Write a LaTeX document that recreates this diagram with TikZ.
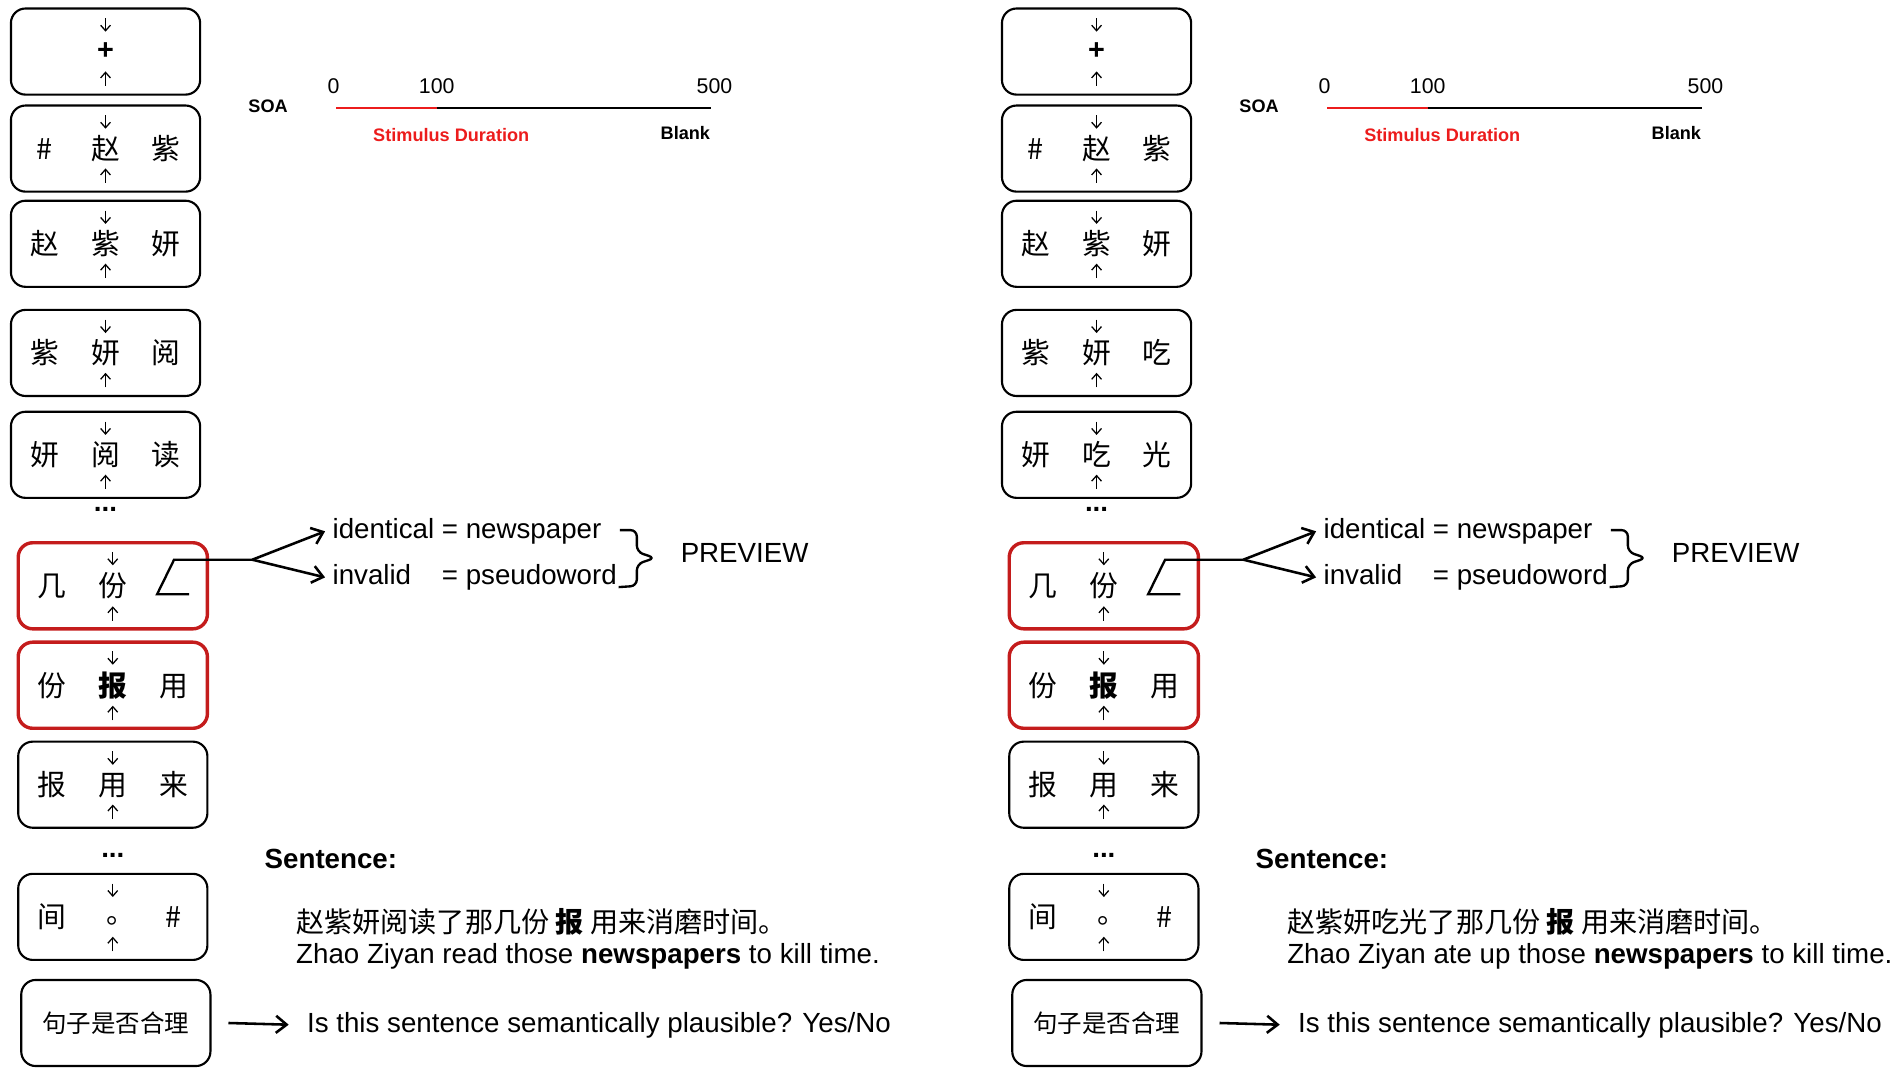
\documentclass[tikz,border=0pt]{standalone}
\usepackage{fontspec}
\setmainfont{Liberation Sans}
\newfontfamily\cjk{Noto Sans CJK SC}
\usepackage{xcolor}
\usetikzlibrary{arrows.meta}
\definecolor{cuered}{RGB}{196,28,28}
\definecolor{soared}{RGB}{236,28,28}
\newcommand{\cell}[1]{\makebox[1cm]{#1}}
\tikzstyle{winbox} = [rectangle, rounded corners=0.24cm, minimum width=3.12cm, minimum height=1.42cm, inner sep=0pt, draw=black, line width=1pt, font=\cjk\fontsize{13.5}{16}\selectfont]
\tikzstyle{cuebox} = [winbox, draw=cuered, line width=1.6pt]
\tikzstyle{gaze} = [line width=0.6pt, -{Straight Barb[length=2.6pt,width=4.6pt]}]
\tikzstyle{txt} = [anchor=west, font=\fontsize{13}{15}\selectfont]
\tikzstyle{lab} = [font=\bfseries\fontsize{8.5}{10}\selectfont]
\tikzstyle{num} = [font=\fontsize{10}{12}\selectfont]
\tikzstyle{ellip} = [font=\bfseries\fontsize{13}{15}\selectfont]
\tikzstyle{arrow} = [line width=1.2pt, -{Straight Barb[length=5pt,width=8pt]}]

\begin{document}
\begin{tikzpicture}[x=0.02cm, y=-0.02cm, node distance=1.64cm]
\useasboundingbox (0,0) rectangle (1568,886);
\foreach \p/\dx/\va/\vb/\eng in {L/0/阅/读/read, R/817/吃/光/ate up}{
\begin{scope}[xshift=\dx*0.02cm]
  % word-by-word windows
  \node (\p-b1) [winbox] at (87,42.5) {\cell{}\cell{\rmfamily\bfseries +}\cell{}};
  \node (\p-b2) [winbox, node distance=1.6cm, below of=\p-b1] {\cell{\#}\cell{赵}\cell{紫}};
  \node (\p-b3) [winbox, node distance=1.57cm, below of=\p-b2] {\cell{赵}\cell{紫}\cell{妍}};
  \node (\p-b4) [winbox, node distance=1.8cm, below of=\p-b3] {\cell{紫}\cell{妍}\cell{\va}};
  \node (\p-b5) [winbox, node distance=1.68cm, below of=\p-b4] {\cell{妍}\cell{\va}\cell{\vb}};
  \node (\p-d1) [ellip, node distance=0.9cm, below of=\p-b5] {...};
  \node (\p-b6) [cuebox, node distance=1.26cm, below of=\p-d1, xshift=0.12cm] {\cell{几}\cell{份}\cell{}};
  \node (\p-b7) [cuebox, below of=\p-b6] {\cell{份}\cell{\textbf{报}}\cell{用}};
  \node (\p-b8) [winbox, below of=\p-b7] {\cell{报}\cell{用}\cell{来}};
  \node (\p-d2) [ellip, node distance=1.17cm, below of=\p-b8] {...};
  \node (\p-b9) [winbox, node distance=1.01cm, below of=\p-d2] {\cell{间}\cell{\hspace*{0.55em}\raisebox{0.15em}{。}}\cell{\#}};
  \node (\p-b10) [winbox, node distance=1.75cm, below of=\p-b9, xshift=0.05cm, font=\cjk\fontsize{11.5}{14}\selectfont] {句子是否合理};
  \foreach \i in {1,...,9}{
    \draw[gaze] ([yshift=-0.18cm]\p-b\i.north) -- ++(0,11);
    \draw[gaze] ([yshift=0.16cm]\p-b\i.south) -- ++(0,-12);
  }
  % mask in the preview slot
  \coordinate (\p-slot) at ([shift={(50.5,-21.5)}]\p-b6.center);
  \coordinate (\p-fork) at ([shift={(115,-21.5)}]\p-b6.center);
  \draw[line width=1.1pt] ([shift={(63,7)}]\p-b6.center) -- ([shift={(36.5,7)}]\p-b6.center) -- (\p-slot) -- (\p-fork);
  \node (\p-idt) [txt] at (268,438) {identical = newspaper};
  \node (\p-inv) [txt] at (268,476) {\rlap{invalid}\phantom{identical} = pseudoword};
  \draw[arrow] (\p-fork) -- (\p-idt.west);
  \draw[arrow] (\p-fork) -- (\p-inv.west);
  \draw[line width=1.1pt, rounded corners=3pt] (511,437) -- (525,437) -- (525,455) -- (540,460) -- (525,465) -- (525,483) -- (510,484);
  \node (\p-prv) [txt] at (555,456) {PREVIEW};
  % SOA timeline
  \node (\p-soa) [lab] at (221,88) {SOA};
  \node (\p-t0) [num] at (275,71) {0};
  \node (\p-t1) [num] at (360,71) {100};
  \node (\p-t5) [num] at (589,71) {500};
  \coordinate (\p-s0) at (277,89);
  \coordinate (\p-s1) at (360,89);
  \coordinate (\p-s5) at (586,89);
  \draw[soared, line width=1.2pt] (\p-s0) -- (\p-s1);
  \draw[line width=1.2pt] (\p-s1) -- (\p-s5);
  \node (\p-stim) [lab, text=soared] at (372,111) {Stimulus Duration};
  \node (\p-blank) [lab] at (565,110) {Blank};
  % sentence and judgement
  \node (\p-sent) [txt, font=\bfseries\fontsize{13}{15}\selectfont] at (212,708) {Sentence:};
  \node (\p-zh) [txt, font=\cjk\fontsize{13.2}{15}\selectfont] at (238,760) {赵紫妍\va\vb 了那几份 \textbf{报} 用来消磨时间。};
  \node (\p-en) [txt] at (238,788) {Zhao Ziyan \eng{} those \textbf{newspapers} to kill time.};
  \node (\p-q) [txt] at (247,845) {Is this sentence semantically plausible? Yes/No};
  \draw[arrow, shorten >=0.18cm] ([xshift=0.28cm]\p-b10.east) -- (\p-q.west);
\end{scope}
}
\end{tikzpicture}
\end{document}
